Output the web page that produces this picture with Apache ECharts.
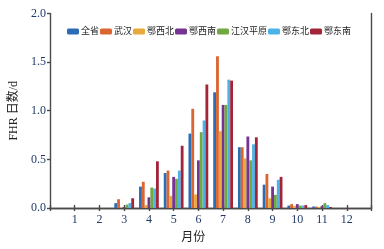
<!DOCTYPE html>
<html><head><meta charset="utf-8">
<script src="https://cdn.jsdelivr.net/npm/echarts@6/dist/echarts.min.js"></script>
<style>html,body{margin:0;padding:0;background:#fff}#c{width:384px;height:249px}</style>
</head><body><div id="c"></div>
<script>
const months = ['1','2','3','4','5','6','7','8','9','10','11','12'];
const seriesNames = ['全省','武汉','鄂西北','鄂西南','江汉平原','鄂东北','鄂东南'];
const quansheng  = [0, 0, 0.05, 0.22, 0.36, 0.765, 1.19, 0.625, 0.24, 0.025, 0.015, 0];
const wuhan      = [0, 0, 0.09, 0.27, 0.385, 1.02, 1.56, 0.625, 0.35, 0.04, 0.015, 0];
const exibei     = [0, 0, 0.005, 0.03, 0.125, 0.14, 0.79, 0.51, 0.10, 0.02, 0.01, 0];
const exinan     = [0, 0, 0.01, 0.11, 0.32, 0.49, 1.06, 0.735, 0.22, 0.04, 0.02, 0];
const jianghan   = [0, 0, 0.035, 0.21, 0.30, 0.78, 1.06, 0.49, 0.135, 0.025, 0.05, 0];
const edongbei   = [0, 0, 0.05, 0.20, 0.385, 0.90, 1.32, 0.655, 0.29, 0.025, 0.03, 0];
const edongnan   = [0, 0, 0.10, 0.48, 0.64, 1.27, 1.31, 0.727, 0.32, 0.03, 0.01, 0];
const yTicks = [0, 0.5, 1.0, 1.5, 2.0];
const colors = ['#2a6db5','#dc6430','#e9a83b','#763392','#72a840','#4bb3e6','#a32438'];

const allSeries = [quansheng, wuhan, exibei, exinan, jianghan, edongbei, edongnan];
const axisCats = ['0'].concat(months).concat(['13']);
const hideEnds = v => (v === '0' || v === '13') ? '' : v;
const lineStyle = {color:'#4a4a4a', width:1.4};
const serif = '"Liberation Serif","Noto Sans CJK SC",serif';

const chart = echarts.init(document.getElementById('c'), null, {renderer:'canvas'});
chart.setOption({
  animation:false,
  color: colors,
  grid:{left:46, right:12.5, top:13.5, bottom:39},
  legend:{
    top:27, left:67, width:330, padding:0, itemWidth:12, itemHeight:6, itemGap:1,
    textStyle:{fontFamily:serif, fontSize:9, color:'#222', padding:[0,0,0,-3]},
    data: seriesNames
  },
  xAxis:[{
    type:'category', data:axisCats, boundaryGap:false,
    axisLine:{lineStyle}, axisTick:{inside:true, length:3, interval:0, lineStyle},
    axisLabel:{formatter:hideEnds, interval:0, fontFamily:serif, fontSize:12, color:'#1f3a66', margin:6},
    name:'月份', nameLocation:'middle', nameGap:24,
    nameTextStyle:{fontFamily:serif, fontSize:12, color:'#222', padding:[0,35,0,0]}
  },{
    type:'category', data:axisCats, boundaryGap:false, position:'top',
    axisLine:{lineStyle}, axisTick:{inside:true, length:3, interval:0, lineStyle},
    axisLabel:{show:false}
  }],
  yAxis:[{
    type:'value', min:0, max:2, interval:0.5,
    axisLine:{show:true, lineStyle}, axisTick:{show:true, inside:false, length:3, lineStyle},
    splitLine:{show:false},
    axisLabel:{formatter:v=>v.toFixed(1), fontFamily:serif, fontSize:12, color:'#1f3a66', margin:4},
    name:'FHR 日数/d', nameLocation:'middle', nameGap:30,
    nameTextStyle:{fontFamily:serif, fontSize:12, color:'#222'}
  },{
    type:'value', min:0, max:2, interval:0.5, position:'right',
    axisLine:{show:true, lineStyle}, axisTick:{show:false}, axisLabel:{show:false}, splitLine:{show:false}
  }],
  series: allSeries.map((arr,i)=>({
    name:seriesNames[i], type:'bar', xAxisIndex:0, yAxisIndex:0,
    data:[null].concat(arr).concat([null]),
    barGap:'0%', barCategoryGap:'20%'
  }))
});
</script></body></html>
